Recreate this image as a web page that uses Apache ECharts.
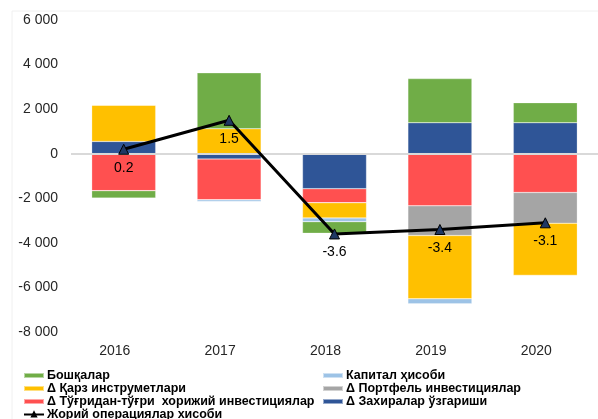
<!DOCTYPE html>
<html>
<head>
<meta charset="utf-8">
<script src="https://cdn.jsdelivr.net/npm/echarts@6/dist/echarts.min.js"></script>
<style>
  html, body { margin: 0; padding: 0; background: #fff; }
  #main { width: 598px; height: 419px; }
</style>
</head>
<body>
<div id="main"></div>
<script>
// years and components (млн долл)
var years = ['2016', '2017', '2018', '2019', '2020'];
var reserves = [550, -240, -1570, 1390, 1390];     // Δ Захиралар ўзгариши
var fdi = [-1660, -1830, -630, -2340, -1740];      // Δ Тўғридан-тўғри хорижий инвестициялар
var portfolio = [0, 0, 0, -1330, -1380];           // Δ Портфель инвестициялар
var debt = [1630, 1120, -680, -2840, -2340];       // Δ Қарз инструметлари
var capital = [0, -70, -170, -225, 0];             // Капитал ҳисоби
var other = [-330, 2510, -520, 1980, 900];         // Бошқалар
var currentAccount = [0.2, 1.5, -3.6, -3.4, -3.1]; // Жорий операциялар хисоби (млрд)

var yTicks = { min: -8000, max: 6000, interval: 2000 };

var FONT = '"Liberation Sans", Arial, sans-serif';

function bar(name, data, color) {
    return {
        name: name,
        type: 'bar',
        stack: 'total',
        barWidth: 64,
        data: data,
        itemStyle: { color: color, borderColor: 'rgba(255,255,255,0.5)', borderWidth: 0.5 }
    };
}

var legendText = { fontFamily: FONT, fontSize: 12.5, fontWeight: 'bold', color: '#000', lineHeight: 13, padding: [0, 0, 0, -2] };

var myChart = echarts.init(document.getElementById('main'));

var option = {
    backgroundColor: '#fff',
    animation: false,
    textStyle: { fontFamily: FONT },
    grid: { left: 71, right: -14, top: 20, bottom: 87 },
    graphic: [
        { type: 'line', shape: { x1: 12, y1: 11, x2: 598, y2: 11 }, style: { stroke: '#f0f0f0', lineWidth: 1 } },
        { type: 'line', shape: { x1: 12, y1: 11, x2: 12, y2: 419 }, style: { stroke: '#f0f0f0', lineWidth: 1 } }
    ],
    legend: [
        {
            orient: 'vertical',
            left: 23,
            top: 369,
            height: 60,
            padding: 0,
            itemWidth: 20,
            itemHeight: 5,
            itemGap: 0,
            textStyle: legendText,
            data: [
                { name: 'Бошқалар', icon: 'rect' },
                { name: 'Δ Қарз инструметлари', icon: 'rect' },
                { name: 'Δ Тўғридан-тўғри  хорижий инвестициялар', icon: 'rect' },
                { name: 'Жорий операциялар хисоби' }
            ]
        },
        {
            orient: 'vertical',
            left: 322,
            top: 369,
            height: 60,
            padding: 0,
            itemWidth: 20,
            itemHeight: 5,
            itemGap: 0,
            textStyle: legendText,
            data: [
                { name: 'Капитал ҳисоби', icon: 'rect' },
                { name: 'Δ Портфель инвестициялар', icon: 'rect' },
                { name: 'Δ Захиралар ўзгариши', icon: 'rect' }
            ]
        }
    ],
    xAxis: {
        type: 'category',
        data: years,
        axisLine: { show: false },
        axisTick: { show: false },
        axisLabel: { fontFamily: FONT, fontSize: 14, color: '#262626', margin: 12, padding: [0, 18, 0, 0] }
    },
    yAxis: [
        {
            type: 'value',
            min: yTicks.min,
            max: yTicks.max,
            interval: yTicks.interval,
            axisLine: { show: false },
            axisTick: { show: false },
            splitLine: { show: false },
            axisLabel: {
                fontFamily: FONT, fontSize: 14, color: '#262626', margin: 13,
                formatter: function (v) {
                    var s = String(Math.abs(v)).replace(/\B(?=(\d{3})+(?!\d))/g, ' ');
                    return (v < 0 ? '-' : '') + s;
                }
            }
        },
        { type: 'value', min: -8, max: 6, show: false }
    ],
    series: [
        bar('Δ Захиралар ўзгариши', reserves, '#2F5597'),
        bar('Δ Тўғридан-тўғри  хорижий инвестициялар', fdi, '#FF5050'),
        bar('Δ Портфель инвестициялар', portfolio, '#A5A5A5'),
        bar('Δ Қарз инструметлари', debt, '#FFC000'),
        bar('Капитал ҳисоби', capital, '#9DC3E6'),
        {
            name: 'Бошқалар',
            type: 'bar',
            stack: 'total',
            barWidth: 64,
            data: other,
            itemStyle: { color: '#70AD47', borderColor: 'rgba(255,255,255,0.5)', borderWidth: 0.5 },
            markLine: {
                silent: true,
                symbol: 'none',
                label: { show: false },
                lineStyle: { color: '#d9d9d9', width: 2, type: 'solid' },
                data: [{ yAxis: 0 }]
            }
        },
        {
            name: 'Жорий операциялар хисоби',
            type: 'line',
            yAxisIndex: 1,
            data: currentAccount,
            z: 10,
            symbol: 'triangle',
            symbolSize: 10,
            lineStyle: { color: '#000', width: 3 },
            itemStyle: { color: '#1F3864', borderColor: '#000', borderWidth: 1 },
            label: {
                show: true,
                position: 'bottom',
                distance: 6,
                fontFamily: FONT,
                fontSize: 14,
                color: '#000'
            }
        }
    ]
};

myChart.setOption(option);
</script>
</body>
</html>
